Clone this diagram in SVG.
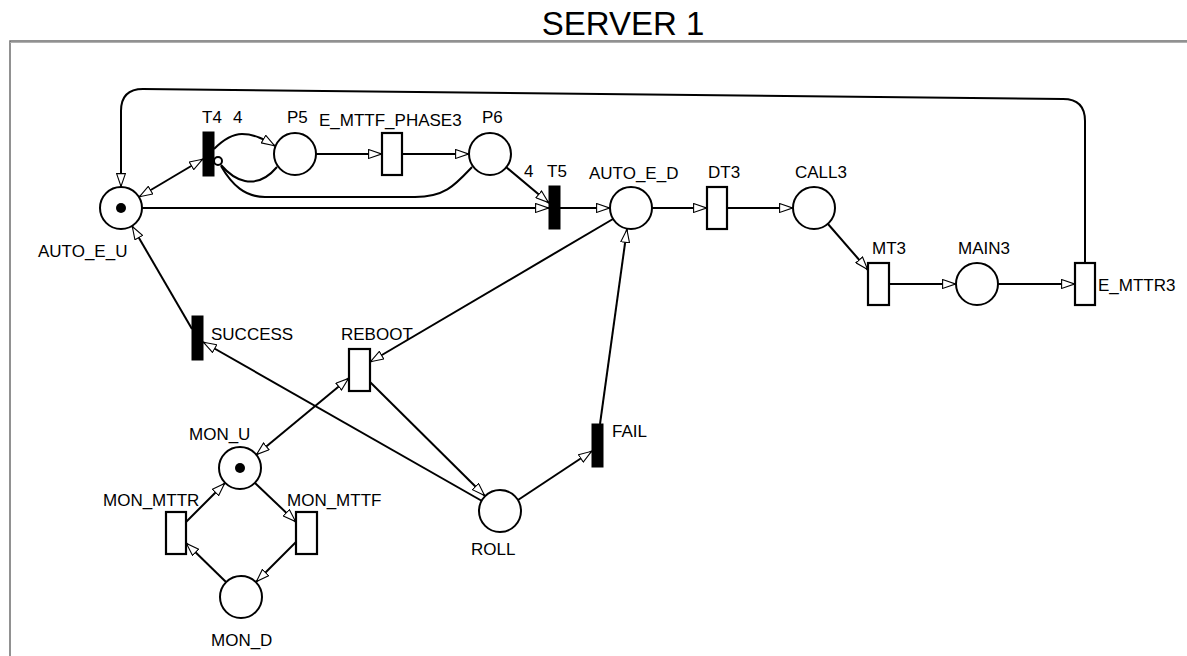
<svg xmlns="http://www.w3.org/2000/svg" width="1187" height="656" viewBox="0 0 1187 656">
<style>
.pl{fill:#fff;stroke:#000;stroke-width:2}
.tr{fill:#fff;stroke:#000;stroke-width:2.2}
.im{fill:#000;stroke:#000;stroke-width:1}
.tk{fill:#000}
.lb{font-family:"Liberation Sans",Arial,sans-serif;font-size:17px;fill:#000}
.e{fill:none;stroke:#000;stroke-width:2}
.a{marker-end:url(#ah)}
.b{marker-start:url(#ah);marker-end:url(#ah)}
</style>
<defs>
<marker id="ah" viewBox="0 0 14 10" refX="14" refY="5" markerWidth="14" markerHeight="10" markerUnits="userSpaceOnUse" orient="auto-start-reverse">
<path d="M0.6,0.6 L13.4,5 L0.6,9.4 Z" fill="#fff" stroke="#000" stroke-width="1.1"/>
</marker>
</defs>
<rect x="0" y="0" width="1187" height="656" fill="#fff"/>
<text x="623" y="35" text-anchor="middle" font-family="Liberation Sans, Arial, sans-serif" font-size="33" fill="#000">SERVER 1</text>
<path d="M10,656 L10,41 L1187,41" fill="none" stroke="#6e6e6e" stroke-width="1.5"/>
<line x1="10" y1="42.5" x2="1187" y2="42.5" stroke="#b0b0b0" stroke-width="1"/>

<g id="connectors">
<path class="e a" d="M1085,263 L1085,121 Q1085,99 1063,99 L143,89 Q121,89 121,111 L121,187"/>
<path class="e b" d="M139,197 L203,159"/>
<path class="e a" d="M214,149 C225,138 233,134 242,134 C255,134 265,140 275,146"/>
<path class="e" d="M277,167 C266,180 255,183 245,181 C235,179 227,172 221,165"/>
<path class="e" d="M472,167 C455,185 445,197 415,197 L265,197 C245,197 232,185 221,166"/>
<circle cx="218" cy="161" r="4" fill="#fff" stroke="#000" stroke-width="2"/>
<path class="e a" d="M316,154 L382,154"/>
<path class="e a" d="M402,154 L469,154"/>
<path class="e a" d="M506,167 L549,203"/>
<path class="e a" d="M142,208 L549,208"/>
<path class="e a" d="M560,208 L610,208"/>
<path class="e a" d="M652,208 L707,208"/>
<path class="e a" d="M727,208 L793,208"/>
<path class="e a" d="M828,224 L868,270"/>
<path class="e a" d="M889,284 L956,284"/>
<path class="e a" d="M998,284 L1075,284"/>
<path class="e a" d="M613,219 L370,362"/>
<path class="e a" d="M600,424 L627,229"/>
<path class="e a" d="M518,500 L592,451"/>
<path class="e a" d="M370,382 L485,496"/>
<path class="e a" d="M482,501 L203,342"/>
<path class="e a" d="M192,329 L132,226"/>
<path class="e b" d="M256,455 L349,378"/>
<path class="e a" d="M186,522 L225,483"/>
<path class="e a" d="M255,483 L296,522"/>
<path class="e a" d="M296,542 L256,582"/>
<path class="e a" d="M226,582 L186,543"/>
<text class="lb" x="233" y="123">4</text>
<text class="lb" x="524" y="177">4</text>
</g>

<g id="AUTO_E_U"><circle class="pl" cx="121" cy="208" r="21"/><circle class="tk" cx="121" cy="208" r="5"/><text class="lb" x="38" y="257">AUTO_E_U</text></g>
<g id="T4"><rect class="im" x="203" y="132" width="11" height="44"/><text class="lb" x="202" y="123">T4</text></g>
<g id="P5"><circle class="pl" cx="295" cy="154" r="21"/><text class="lb" x="287" y="123">P5</text></g>
<g id="E_MTTF_PHASE3"><rect class="tr" x="382" y="133" width="20" height="42"/><text class="lb" x="319" y="126">E_MTTF_PHASE3</text></g>
<g id="P6"><circle class="pl" cx="490" cy="154" r="21"/><text class="lb" x="482" y="123">P6</text></g>
<g id="T5"><rect class="im" x="549" y="186" width="11" height="43"/><text class="lb" x="547" y="177">T5</text></g>
<g id="AUTO_E_D"><circle class="pl" cx="631" cy="208" r="21"/><text class="lb" x="589" y="179">AUTO_E_D</text></g>
<g id="DT3"><rect class="tr" x="707" y="187" width="20" height="42"/><text class="lb" x="708" y="178">DT3</text></g>
<g id="CALL3"><circle class="pl" cx="814" cy="208" r="21"/><text class="lb" x="795" y="178">CALL3</text></g>
<g id="MT3"><rect class="tr" x="868" y="263" width="21" height="42"/><text class="lb" x="872" y="254">MT3</text></g>
<g id="MAIN3"><circle class="pl" cx="977" cy="284" r="21"/><text class="lb" x="958" y="254">MAIN3</text></g>
<g id="E_MTTR3"><rect class="tr" x="1075" y="263" width="20" height="42"/><text class="lb" x="1098" y="291">E_MTTR3</text></g>
<g id="SUCCESS"><rect class="im" x="192" y="316" width="11" height="44"/><text class="lb" x="211" y="340">SUCCESS</text></g>
<g id="REBOOT"><rect class="tr" x="349" y="349" width="21" height="42"/><text class="lb" x="341" y="340">REBOOT</text></g>
<g id="FAIL"><rect class="im" x="592" y="424" width="11" height="43"/><text class="lb" x="612" y="437">FAIL</text></g>
<g id="ROLL"><circle class="pl" cx="500" cy="511" r="21"/><text class="lb" x="471" y="555">ROLL</text></g>
<g id="MON_U"><circle class="pl" cx="240" cy="468" r="21"/><circle class="tk" cx="240" cy="468" r="5"/><text class="lb" x="189" y="440">MON_U</text></g>
<g id="MON_MTTR"><rect class="tr" x="166" y="512" width="20" height="42"/><text class="lb" x="103" y="506">MON_MTTR</text></g>
<g id="MON_MTTF"><rect class="tr" x="296" y="512" width="21" height="42"/><text class="lb" x="287" y="506">MON_MTTF</text></g>
<g id="MON_D"><circle class="pl" cx="241" cy="597" r="21"/><text class="lb" x="211" y="646">MON_D</text></g>
</svg>
